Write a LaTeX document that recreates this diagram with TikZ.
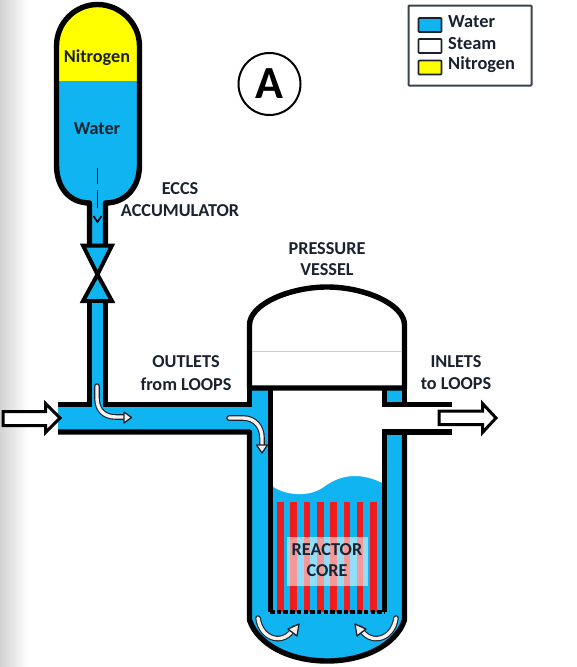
\documentclass[tikz,border=0pt]{standalone}
\usepackage{fontspec}
\setmainfont{Carlito}
\definecolor{wat}{HTML}{0FB4F0}
\definecolor{ink}{HTML}{1A2230}
\definecolor{rod}{HTML}{EE1C1C}
\definecolor{nit}{HTML}{FFFF00}
\tikzset{
  wall/.style={line width=5.4pt,black,line cap=butt},
  lab/.style={font=\bfseries\fontsize{18.2}{20}\selectfont,text=ink,inner sep=0pt},
  leg/.style={font=\bfseries\fontsize{18.4}{20}\selectfont,text=ink,inner sep=0pt,anchor=west},
  swatch/.style={draw=ink,line width=1.6pt,rounded corners=0.8pt},
  bar/.style={fill=rod},
  block/.style={draw=black,line width=3pt,fill=white,line join=miter},
  flowo/.style={draw=ink,line width=5.6pt,line cap=round,line join=round},
  flowi/.style={draw=white!90!brown,line width=3.4pt,line cap=round,line join=round},
}
\begin{document}
\begin{tikzpicture}[x=1pt,y=-1pt]
\useasboundingbox (0,0) rectangle (577,667);
\fill[white] (0,0) rectangle (577,667);
\shade[left color=gray!35,right color=white,draw=none] (0,0) rectangle (28,667);

% accumulator
\fill[nit] (56.5,81) -- (56.5,46) .. controls (56.5,23) and (75,4.5) .. (97.5,4.5) .. controls (120,4.5) and (139.5,23) .. (139.5,46) -- (139.5,81) -- cycle;
\fill[wat] (56.5,81) -- (56.5,165) .. controls (56.5,188) and (70,203) .. (89.5,203) -- (89.5,245) -- (105.5,245) -- (105.5,203) .. controls (125,203) and (139.5,188) .. (139.5,165) -- (139.5,81) -- cycle;
\draw[wall,line join=round] (89.5,245) -- (89.5,203) .. controls (70,203) and (56.5,188) .. (56.5,165) -- (56.5,46) .. controls (56.5,23) and (75,4.5) .. (97.5,4.5) .. controls (120,4.5) and (139.5,23) .. (139.5,46) -- (139.5,165) .. controls (139.5,188) and (125,203) .. (105.5,203) -- (105.5,245);
\draw[black,line width=1.6pt] (97.5,168) -- (97.5,184) (97.5,190) -- (97.5,208);
\draw[black,line width=1.6pt] (93.5,216) -- (97.5,222) -- (101.5,216);

% valve
\draw[black,line width=4pt,fill=wat,line join=miter] (83,245.5) -- (112,245.5) -- (97.5,274.5) -- cycle;
\draw[black,line width=4pt,fill=wat,line join=miter] (83,301) -- (112,301) -- (97.5,274.5) -- cycle;

% pipes water
\fill[wat] (89.5,303) rectangle (105.5,410);
\fill[wat] (58,404.5) rectangle (255,432);

% lower vessel water
\fill[wat] (249.5,388) -- (249.5,620) .. controls (258,645) and (290,661) .. (327,661) .. controls (364,661) and (396,645) .. (404.5,620) -- (404.5,388) -- cycle;

% steam / interior
\fill[white] (270.5,388) -- (270.5,485) .. controls (285,496) and (310,498) .. (325,486) .. controls (345,472) and (365,474) .. (384.5,484) -- (384.5,388) -- cycle;
\fill[white] (384,404.5) rectangle (452,432);

% rods
\foreach \xa in {277,290.3,303.6,316.9,330.2,343.5,356.8,370.1}
  \fill[bar] (\xa,502) rectangle ++(6.6,110);

% dome
\draw[wall,line join=round,fill=white] (249.5,388) -- (249.5,325) .. controls (249.5,304) and (290,287) .. (327,287) .. controls (364,287) and (404.5,304) .. (404.5,325) -- (404.5,388) -- cycle;
\draw[gray!40,line width=1pt] (252,351) -- (402,351);

% walls
\draw[wall] (404.5,385) -- (404.5,404.5);
\draw[wall] (382,404.5) -- (452,404.5);
\draw[wall] (382,432) -- (452,432);
\draw[wall] (384.5,388) -- (384.5,404.5);
\draw[wall] (384.5,432) -- (384.5,612);
\draw[wall] (270.5,388) -- (270.5,612);
\draw[wall,line join=round] (58,432) -- (249.5,432) -- (249.5,620) .. controls (258,645) and (290,661) .. (327,661) .. controls (364,661) and (396,645) .. (404.5,620) -- (404.5,432);
\draw[wall] (249.5,388) -- (249.5,404.5);
\draw[wall,line join=miter] (58,404.5) -- (89.5,404.5) -- (89.5,303);
\draw[wall,line join=miter] (105.5,303) -- (105.5,404.5) -- (252,404.5);
\draw[black,line width=4pt,dash pattern=on 4.5pt off 2.2pt] (270,612) -- (385,612);

% translucent label panel
\fill[white,opacity=.55] (287,537) rectangle (368,586);

% big in/out arrows
\draw[block] (3,411.5) -- (45.5,411.5) -- (45.5,403.5) -- (60,418) -- (45.5,432.5) -- (45.5,425.5) -- (3,425.5) -- cycle;
\draw[block] (439,411) -- (482.5,411) -- (482.5,403.5) -- (496,418) -- (482.5,432.5) -- (482.5,424.5) -- (439,424.5) -- cycle;

% curved flow arrows
\foreach \st in {flowo,flowi}{
  \draw[\st] (97,386) -- (97,398) .. controls (97,410) and (104,417) .. (116,417) -- (126,417);
  \draw[\st] (229,418) -- (243,418) .. controls (255,418) and (262,427) .. (262,438) -- (262,447);
  \draw[\st] (258,618) .. controls (261,640) and (284,646) .. (294,628);
  \draw[\st] (396,618) .. controls (393,640) and (370,646) .. (360,628);
}
\fill[white!90!brown,draw=ink,line width=1.3pt,line join=round] (124,412) -- (131.5,417.5) -- (124,423) -- cycle;
\fill[white!90!brown,draw=ink,line width=1.3pt,line join=round] (256.5,445) -- (262,453) -- (267.5,445) -- cycle;
\fill[white!90!brown,draw=ink,line width=1.3pt,line join=round] (288,629) -- (299,624) -- (297,636) -- cycle;
\fill[white!90!brown,draw=ink,line width=1.3pt,line join=round] (366,629) -- (355,624) -- (357,636) -- cycle;

% texts
\node[lab] (tN) at (97,58) {Nitrogen};
\node[lab] (tW) at (97,129) {Water};
\node[lab] (tE1) at (180,189) {ECCS};
\node[lab] (tE2) at (180,211) {ACCUMULATOR};
\node[lab] (tP1) at (327,249) {PRESSURE};
\node[lab] (tP2) at (327,270) {VESSEL};
\node[lab] (tO1) at (186,362) {OUTLETS};
\node[lab] (tO2) at (186,384) {from LOOPS};
\node[lab] (tI1) at (456,362) {INLETS};
\node[lab] (tI2) at (456,384) {to LOOPS};
\node[lab] (tR1) at (327,550) {REACTOR};
\node[lab] (tR2) at (327,571) {CORE};

% A
\node[circle,draw=black,line width=2pt,minimum size=62pt,inner sep=0pt,font=\bfseries\fontsize{46}{46}\selectfont,text=black] (A) at (269.5,84) {A};

% legend
\draw[draw=ink!85,line width=2pt,fill=white,rounded corners=0.8pt] (408.5,5.5) rectangle (531.5,85.5);
\draw[swatch,fill=wat] (418.5,18) rectangle (441.5,32);
\draw[swatch,fill=white] (418.5,39) rectangle (441.5,53);
\draw[swatch,fill=nit] (418.5,60.5) rectangle (441.5,74.5);
\node[leg] (l1) at (448,22) {Water};
\node[leg] (l2) at (448,43.5) {Steam};
\node[leg] (l3) at (448,65) {Nitrogen};
\end{tikzpicture}
\end{document}
